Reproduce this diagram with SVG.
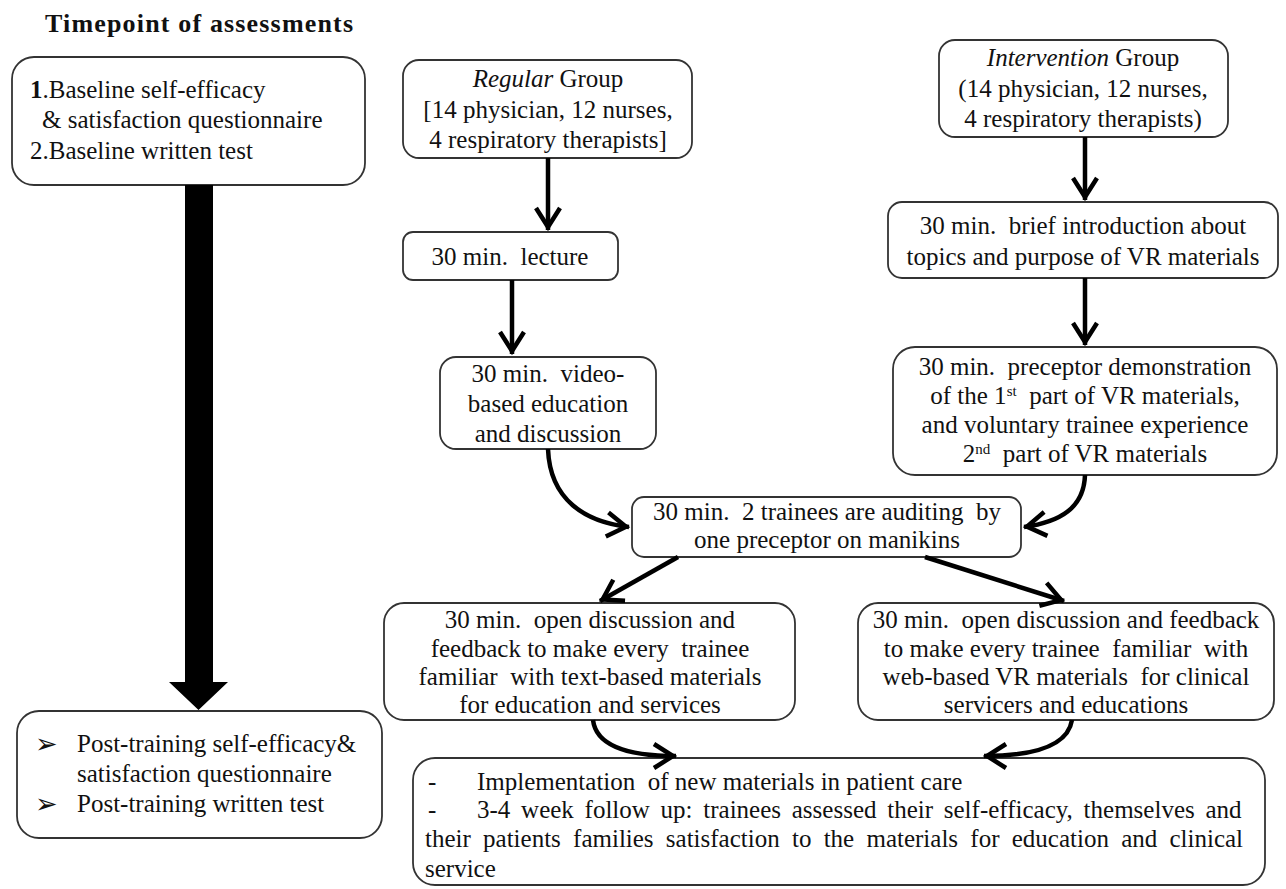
<svg xmlns="http://www.w3.org/2000/svg" width="1286" height="889" viewBox="0 0 1286 889">
<defs>
<style>
.box{fill:#fff;stroke:#333;stroke-width:1.8}
.t{font-family:"Liberation Serif","Times New Roman",Times,"DejaVu Serif",serif;font-size:25px;fill:#111}
.c{text-anchor:middle}
.b{font-family:"DejaVu Sans",sans-serif;font-size:27px;fill:#111}
.conn{fill:none;stroke:#000;stroke-width:4.5}
.sup{font-size:15px}
</style>
<marker id="chev" markerUnits="userSpaceOnUse" markerWidth="40" markerHeight="40" viewBox="-30 -20 40 40" refX="3" refY="0" orient="auto">
<path d="M -19 -12 L 0 0 L -19 12" fill="none" stroke="#000" stroke-width="4.5" stroke-linejoin="miter"/>
</marker>
</defs>
<rect width="1286" height="889" fill="#fff"/>

<text x="45" y="32" class="t" style="font-weight:bold;font-size:26px" textLength="308" lengthAdjust="spacing">Timepoint  of assessments</text>

<g id="baseline">
<rect class="box" x="12" y="57" width="353" height="128" rx="22"/>
<text class="t" x="30" y="98"><tspan font-weight="bold">1</tspan>.Baseline self-efficacy</text>
<text class="t" x="42" y="128">&amp; satisfaction questionnaire</text>
<text class="t" x="30" y="159">2.Baseline written test</text>
</g>

<g id="timeline-arrow">
<polygon points="185,185 213,185 213,682 228,682 198.5,710 169,682 185,682" fill="#000"/>
</g>

<g id="post">
<rect class="box" x="17" y="711" width="365" height="127" rx="22"/>
<text class="b" x="35" y="753">➢</text>
<text class="t" x="77" y="752">Post-training self-efficacy&amp;</text>
<text class="t" x="77" y="782">satisfaction questionnaire</text>
<text class="b" x="35" y="813">➢</text>
<text class="t" x="77" y="812">Post-training written test</text>
</g>

<g id="regular">
<rect class="box" x="403" y="60" width="289" height="98" rx="16"/>
<text class="t c" x="548" y="87"><tspan font-style="italic">Regular</tspan> Group</text>
<text class="t c" x="548" y="118">[14 physician, 12 nurses,</text>
<text class="t c" x="548" y="148">4 respiratory therapists]</text>
</g>

<g id="lecture">
<rect class="box" x="403" y="232" width="215" height="48" rx="10"/>
<text class="t c" x="510" y="265" xml:space="preserve">30 min.  lecture</text>
</g>

<g id="video">
<rect class="box" x="440" y="357" width="216" height="92" rx="16"/>
<text class="t c" x="548" y="382" xml:space="preserve">30 min.  video-</text>
<text class="t c" x="548" y="412">based education</text>
<text class="t c" x="548" y="442">and discussion</text>
</g>

<g id="intervention">
<rect class="box" x="939" y="40" width="289" height="97" rx="16"/>
<text class="t c" x="1083" y="66"><tspan font-style="italic">Intervention</tspan> Group</text>
<text class="t c" x="1083" y="97">(14 physician, 12 nurses,</text>
<text class="t c" x="1083" y="127">4 respiratory therapists)</text>
</g>

<g id="intro">
<rect class="box" x="888" y="202" width="390" height="76" rx="14"/>
<text class="t c" x="1083" y="234" xml:space="preserve">30 min.  brief introduction about</text>
<text class="t c" x="1083" y="265">topics and purpose of VR materials</text>
</g>

<g id="demo">
<rect class="box" x="893" y="347" width="384" height="128" rx="22"/>
<text class="t c" x="1085" y="375" xml:space="preserve">30 min.  preceptor demonstration</text>
<text class="t c" x="1085" y="404" xml:space="preserve">of the 1<tspan class="sup" baseline-shift="super">st</tspan>  part of VR materials,</text>
<text class="t c" x="1085" y="433">and voluntary trainee experience</text>
<text class="t c" x="1085" y="462" xml:space="preserve">2<tspan class="sup" baseline-shift="super">nd</tspan>  part of VR materials</text>
</g>

<g id="auditing">
<rect class="box" x="632" y="497" width="389" height="60" rx="12"/>
<text class="t c" x="827" y="520" xml:space="preserve">30 min.  2 trainees are auditing  by</text>
<text class="t c" x="827" y="548">one preceptor on manikins</text>
</g>

<g id="feedback-text">
<rect class="box" x="384" y="603" width="411" height="117" rx="20"/>
<text class="t c" x="590" y="628" xml:space="preserve">30 min.  open discussion and</text>
<text class="t c" x="590" y="657" xml:space="preserve">feedback to make every  trainee</text>
<text class="t c" x="590" y="685" xml:space="preserve">familiar  with text-based materials</text>
<text class="t c" x="590" y="713">for education and services</text>
</g>

<g id="feedback-vr">
<rect class="box" x="858" y="603" width="416" height="117" rx="20"/>
<text class="t c" x="1066" y="628" xml:space="preserve">30 min.  open discussion and feedback</text>
<text class="t c" x="1066" y="657" xml:space="preserve">to make every trainee  familiar  with</text>
<text class="t c" x="1066" y="685" xml:space="preserve">web-based VR materials  for clinical</text>
<text class="t c" x="1066" y="713">servicers and educations</text>
</g>

<g id="implementation">
<rect class="box" x="413" y="758" width="852" height="127" rx="22"/>
<text class="t" x="428" y="790">-</text>
<text class="t" x="477" y="790" xml:space="preserve">Implementation  of new materials in patient care</text>
<text class="t" x="428" y="818">-</text>
<text class="t" x="477" y="818" style="word-spacing:4.5px">3-4 week follow up: trainees assessed their self-efficacy, themselves and</text>
<text class="t" x="425" y="847" style="word-spacing:6px">their patients families satisfaction to the materials for education and clinical</text>
<text class="t" x="425" y="877">service</text>
</g>

<g id="connectors">
<line class="conn" x1="548" y1="158" x2="548" y2="230" marker-end="url(#chev)"/>
<line class="conn" x1="512" y1="280" x2="512" y2="354" marker-end="url(#chev)"/>
<line class="conn" x1="1085" y1="137" x2="1085" y2="200" marker-end="url(#chev)"/>
<line class="conn" x1="1085" y1="278" x2="1085" y2="345" marker-end="url(#chev)"/>
<path class="conn" d="M 548 449 C 550 500, 585 522, 629 527" marker-end="url(#chev)"/>
<path class="conn" d="M 1085 475 C 1084 508, 1060 522, 1024 527" marker-end="url(#chev)"/>
<line class="conn" x1="678" y1="557" x2="600" y2="601" marker-end="url(#chev)"/>
<line class="conn" x1="925" y1="557" x2="1064" y2="601" marker-end="url(#chev)"/>
<path class="conn" d="M 593 720 C 596 745, 625 756, 676 756" marker-end="url(#chev)"/>
<path class="conn" d="M 1072 720 C 1068 745, 1035 756, 984 756" marker-end="url(#chev)"/>
</g>
</svg>
